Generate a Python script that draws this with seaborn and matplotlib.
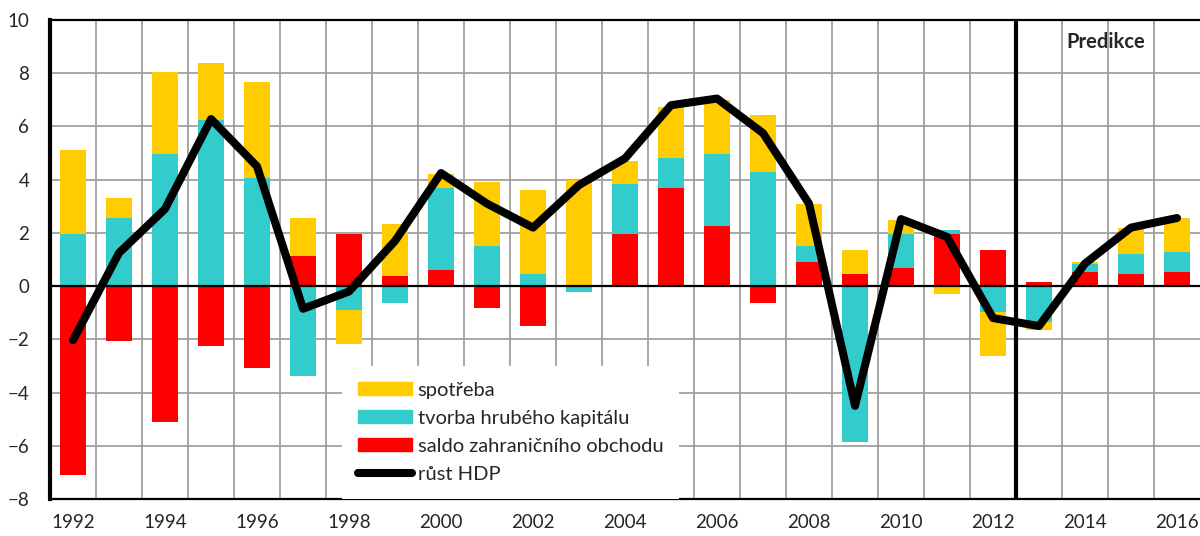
import numpy as np
import matplotlib
matplotlib.use("Agg")
import matplotlib.pyplot as plt
import matplotlib.patches as mpatches
from matplotlib.lines import Line2D
import seaborn as sns

## DATA
years = list(range(1992, 2017))
# saldo zahranicniho obchodu (red, stacked first)
saldo = [-7.1, -2.08, -5.09, -2.24, -3.06, 1.12, 1.95, 0.38, 0.6, -0.81,
         -1.49, 0.0, 1.95, 3.69, 2.25, -0.65, 0.9, 0.45, 0.7, 1.95,
         1.37, 0.15, 0.55, 0.45, 0.54]
# tvorba hrubeho kapitalu (cyan)
tvorba = [1.95, 2.56, 4.95, 6.25, 4.06, -3.36, -0.89, -0.65, 3.09, 1.5,
          0.47, -0.21, 1.89, 1.11, 2.7, 4.28, 0.61, -5.84, 1.25, 0.15,
          -0.96, -1.34, 0.27, 0.75, 0.75]
# spotreba (yellow, stacked last)
spotreba = [3.15, 0.74, 3.09, 2.15, 3.6, 1.44, -1.27, 1.95, 0.51, 2.4,
            3.13, 3.98, 0.88, 1.95, 2.04, 2.17, 1.57, 0.9, 0.52, -0.3,
            -1.65, -0.31, 0.1, 0.99, 1.27]
# rust HDP (black line)
hdp = [-2.03, 1.25, 2.9, 6.28, 4.5, -0.85, -0.2, 1.7, 4.25, 3.1,
       2.2, 3.8, 4.8, 6.8, 7.05, 5.75, 3.1, -4.5, 2.52, 1.85,
       -1.2, -1.5, 0.85, 2.2, 2.56]
labels = ["spotřeba", "tvorba hrubého kapitálu", "saldo zahraničního obchodu", "růst HDP"]
predikce_from = 2013

colors = {"saldo": "#FF0000", "tvorba": "#33CCCC", "spotreba": "#FFCC00"}

sns.set_style("white")
plt.rcParams["font.family"] = ["Lato", "DejaVu Sans"]

fig = plt.figure(figsize=(12, 5.36), dpi=100)
ax = fig.add_axes([0.0417, 0.069, 0.9583, 0.8936])

## stacked bars (positives and negatives stacked separately)
pos = np.zeros(len(years))
neg = np.zeros(len(years))
for key, vals in [("saldo", saldo), ("tvorba", tvorba), ("spotreba", spotreba)]:
    v = np.array(vals)
    bottom = np.where(v >= 0, pos, neg)
    sns.barplot(x=years, y=v, ax=ax, native_scale=True, width=0.56,
                color=colors[key], saturation=1, errorbar=None,
                bottom=bottom, linewidth=0, zorder=2)
    pos = pos + np.where(v >= 0, v, 0)
    neg = neg + np.where(v < 0, v, 0)

ax.axhline(0, color="black", lw=1.6, zorder=3)
ax.axvline(predikce_from - 0.5, color="black", lw=3, zorder=3)

sns.lineplot(x=years, y=hdp, ax=ax, color="black", lw=5.8, zorder=4,
             solid_capstyle="round", solid_joinstyle="round")

## axes
ax.set_xlim(years[0] - 0.5, years[-1] + 0.5)
ax.set_ylim(-8, 10)
ax.set_yticks(range(-8, 11, 2))
ax.set_xticks(years[::2])
ax.set_xticks([y + 0.5 for y in years[:-1]], minor=True)
ax.tick_params(axis="both", which="both", length=0, labelsize=13.5)
ax.tick_params(axis="x", pad=11)
ax.tick_params(axis="y", pad=15)
ax.grid(False)
ax.grid(True, axis="y", which="major", color="#a0a0a0", lw=1.3)
ax.grid(True, axis="x", which="minor", color="#a0a0a0", lw=1.3)
ax.set_axisbelow(True)
ax.set_xlabel("")
ax.set_ylabel("")
for s in ["left", "top", "bottom"]:
    ax.spines[s].set_color("black")
ax.spines["left"].set_linewidth(3)
ax.spines["top"].set_linewidth(1.6)
ax.spines["bottom"].set_linewidth(1.6)
ax.spines["right"].set_visible(False)

ax.text(2014.45, 9.17, "Predikce", fontsize=14.5, fontweight="bold",
        ha="center", va="center", zorder=0.4)

## legend
handles = [mpatches.Patch(color=colors["spotreba"]),
           mpatches.Patch(color=colors["tvorba"]),
           mpatches.Patch(color=colors["saldo"]),
           Line2D([], [], color="black", lw=5.8, solid_capstyle="round")]
leg = ax.legend(handles, labels, loc="lower left", bbox_to_anchor=(0.254, 0.0),
                fontsize=14.5, frameon=True, fancybox=False, framealpha=1,
                edgecolor="none", facecolor="white", borderaxespad=0,
                handlelength=2.65, handleheight=0.65, handletextpad=0.3,
                labelspacing=0.55, borderpad=0.8)
leg.set_zorder(5)

plt.savefig("out.png", dpi=100)
plt.close()
